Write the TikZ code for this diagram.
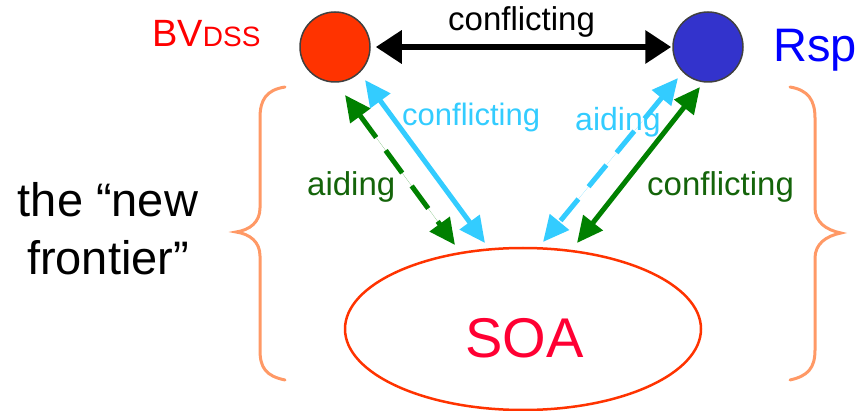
\documentclass[tikz,border=0pt]{standalone}
\usepackage{fontspec}
\setmainfont{Liberation Sans}
\usetikzlibrary{arrows.meta,shapes.geometric}
\definecolor{cRed}{RGB}{255,51,0}
\definecolor{cBlue}{RGB}{51,51,204}
\definecolor{cCyan}{RGB}{51,204,255}
\definecolor{cGreen}{RGB}{0,128,0}
\definecolor{cGreenTxt}{RGB}{20,100,10}
\definecolor{cBrace}{RGB}{255,153,102}
\definecolor{cSoa}{RGB}{255,0,51}
\begin{document}
\begin{tikzpicture}[x=1pt,y=-1pt,
  lbl/.style={inner sep=0pt,anchor=base west},
  dot/.style={circle,minimum size=70pt,inner sep=0pt,draw=black!75,line width=1.5pt},
  bihead/.style={line width=5pt,{Triangle[length=26pt,width=24pt]}-{Triangle[length=26pt,width=24pt]}},
  dashline/.style={dash pattern=on 28pt off 16pt},
  bracestyle/.style={draw=cBrace,line width=3pt,line cap=round}]
\useasboundingbox (0,0) rectangle (864,411);

% circles and ellipse
\node[dot,fill=cRed] (bv) at (335,47) {};
\node[dot,fill=cBlue] (rsp) at (708,47) {};
\node[ellipse,draw=cRed,line width=2.5pt,minimum width=356pt,minimum height=162pt,inner sep=0pt] (soa) at (523,329) {};
\node[lbl,text=cSoa] (soatxt) at (465,357) {\fontsize{56}{56}\selectfont SOA};

% labels
\node[lbl,text=red] (bvlbl) at (152,47) {{\fontsize{38}{38}\selectfont BV}{\fontsize{28}{28}\selectfont DSS}};
\node[lbl,text=blue] (rsplbl) at (773,62) {\fontsize{47}{47}\selectfont Rsp};
\node[lbl] (ctop) at (448,31) {\fontsize{33}{33}\selectfont conflicting};
\node[lbl,text=cCyan] (cleft) at (402,126) {\fontsize{31}{31}\selectfont conflicting};
\node[lbl,text=cGreenTxt] (aleft) at (307,196) {\fontsize{33}{33}\selectfont aiding};
\node[lbl,text=cCyan] (aright) at (575,131) {\fontsize{32}{32}\selectfont aiding};
\node[lbl,text=cGreenTxt] (cright) at (647,196) {\fontsize{33}{33}\selectfont conflicting};
\node[inner sep=0pt,align=center,font=\fontsize{47}{58}\selectfont] (front) at (108,229) {the “new\\frontier”};

% end points of the diagonal connectors
\coordinate (lcA) at (365,80);  \coordinate (lcB) at (485,243);
\coordinate (lgA) at (345,95);  \coordinate (lgB) at (455,245);
\coordinate (rcA) at (678,78);  \coordinate (rcB) at (543,242);
\coordinate (rgA) at (700,87);  \coordinate (rgB) at (577,243);

% connectors
\draw[line width=6.5pt,{Triangle[length=26pt,width=32pt]}-{Triangle[length=26pt,width=32pt]},shorten <=5pt,shorten >=1pt] (bv) -- (rsp);
\draw[bihead,draw=cGreen,fill=cGreen,dashline] (lgA) -- (lgB);
\draw[bihead,draw=cCyan,fill=cCyan] (lcA) -- (lcB);
\draw[bihead,draw=cCyan,fill=cCyan,dashline] (rcA) -- (rcB);
\draw[bihead,draw=cGreen,fill=cGreen] (rgA) -- (rgB);

% braces
\draw[bracestyle] (285,87) .. controls (266,90) and (260,100) .. (260,118)
  -- (260,208) .. controls (260,222) and (250,230) .. (236,232)
  .. controls (250,234) and (260,242) .. (260,256)
  -- (260,350) .. controls (260,368) and (266,376) .. (285,380);
\draw[bracestyle] (790,87) .. controls (808,90) and (815,100) .. (815,118)
  -- (815,208) .. controls (815,222) and (826,230) .. (841,233)
  .. controls (826,236) and (815,244) .. (815,258)
  -- (815,350) .. controls (815,368) and (808,376) .. (790,380);
\end{tikzpicture}
\end{document}
